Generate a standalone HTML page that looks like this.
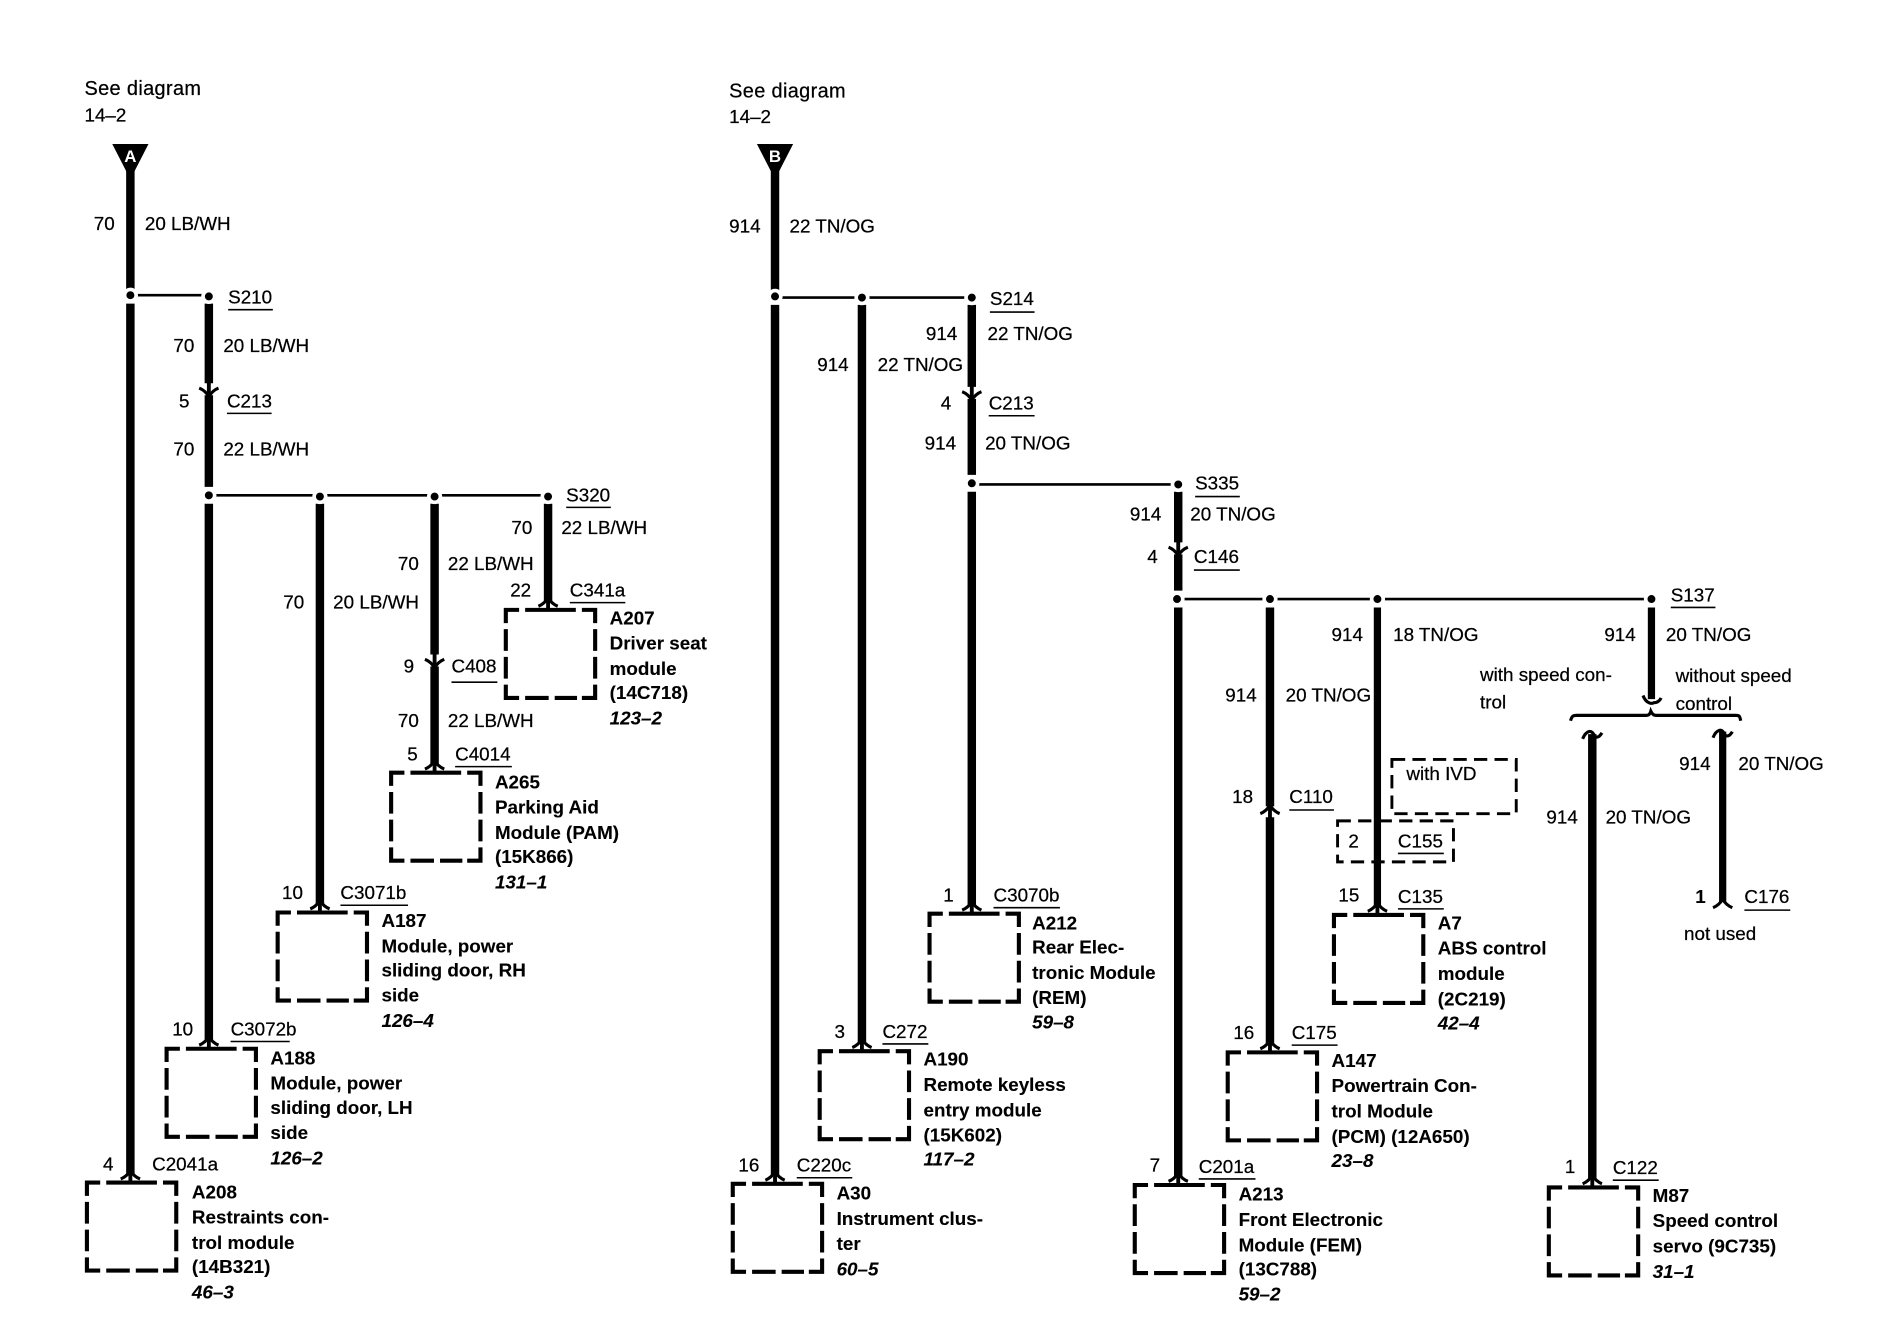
<!DOCTYPE html>
<html><head><meta charset="utf-8"><title>Wiring diagram</title>
<style>
html,body{margin:0;padding:0;background:#fff}
svg{display:block}
text{font-family:"Liberation Sans",Arial,sans-serif;font-size:15.6px;fill:#000;stroke:#000;stroke-width:.2}
.b{font-weight:bold;stroke-width:.1}
.i{font-weight:bold;font-style:italic;stroke-width:.1}
.e{text-anchor:end}
.g{font-size:16.5px;letter-spacing:.3px}
.w{stroke:#000;stroke-width:7;fill:none}
.h{stroke:#000;stroke-width:2.2;fill:none}
.u{stroke:#000;stroke-width:1.3;fill:none}
.d{fill:#000;stroke:#fff;stroke-width:3}
.c{stroke:#000;stroke-width:2.6;fill:none}
.s{stroke:#000;stroke-width:3.2;fill:none}
.x{stroke:#000;stroke-width:3.4;fill:none}
.y{stroke:#000;stroke-width:2.4;fill:none;stroke-dasharray:11 6}
</style></head><body>
<svg xmlns="http://www.w3.org/2000/svg" width="1892" height="1344" viewBox="0 0 1892 1344">
<defs>
<g id="box">
<path class="x" d="M0,11V0H11M63,0H74V11M0,62V73H11M63,73H74V62"/>
<path class="x" d="M16,0H58M16,73H35.5M40.5,73H59M0,16V34M0,39V57M74,16V34M74,39V57"/>
</g>
<g id="cu"><path class="c" d="M-8,3Q-3,1 0,-4Q3,1 8,3"/><path class="s" d="M0,-4V7"/></g>
<g id="cd"><path class="c" d="M-8,-3Q-3,-1 0,4Q3,-1 8,-3"/><path class="s" d="M0,-8V4"/></g>
<path id="cn" class="c" d="M-8,4Q-3,2 0,-3Q3,2 8,4"/>
<path id="ct" class="c" d="M-8,6Q-6,1 -3,0Q0,-1 2,4Q5,6 8,1"/>
<path id="cv" class="c" d="M-7,-5Q-5,0 -2,1Q0,2 2,1Q6,1 8,-3"/>
</defs>
<rect width="1892" height="1344" fill="#fff"/>
<g transform="translate(0,1) scale(1.2072,1.2057)">

<!-- wires left -->
<path class="w" d="M108,138V239M108,251V973"/>
<path class="w" d="M173,251V317M173,327V403M173,417V862"/>
<path class="w" d="M265,417V749"/>
<path class="w" d="M360,417V542M360,552V633"/>
<path class="w" d="M454,417V498"/>
<path class="h" d="M108,244H173M173,410H454"/>
<polygon points="93,118.6 123,118.6 111,142 105,142" fill="#000"/>
<text class="b" x="108" y="133.5" text-anchor="middle" style="fill:#fff;stroke:none;font-size:14px">A</text>
<circle class="d" cx="108" cy="244" r="4.8"/><circle class="d" cx="173" cy="245" r="4.8"/>
<circle class="d" cx="173" cy="410" r="4.8"/><circle class="d" cx="265" cy="411" r="4.8"/>
<circle class="d" cx="360" cy="411" r="4.8"/><circle class="d" cx="454" cy="411" r="4.8"/>
<use href="#cd" x="173" y="324"/><use href="#cd" x="360" y="549"/>
<use href="#cu" x="108" y="974"/><use href="#cu" x="173" y="863"/><use href="#cu" x="265" y="750"/>
<use href="#cu" x="360" y="634"/><use href="#cu" x="454" y="499"/>
<use href="#box" x="72" y="980"/><use href="#box" x="138" y="869"/><use href="#box" x="230" y="756"/>
<use href="#box" x="324" y="640"/><use href="#box" x="419" y="505"/>
<path class="u" d="M189,256H226M188,342H225M469,420H506M472,499H518M374,565H412M377,635H424M282,750H338M191,863H240"/>

<text class="g" x="70" y="78">See diagram</text><text x="70" y="100">14–2</text>
<text class="e" x="95" y="190">70</text><text x="120" y="190">20 LB/WH</text>
<text x="189" y="251">S210</text>
<text class="e" x="161" y="291">70</text><text x="185" y="291">20 LB/WH</text>
<text class="e" x="157" y="337">5</text><text x="188" y="337">C213</text>
<text class="e" x="161" y="377">70</text><text x="185" y="377">22 LB/WH</text>
<text x="469" y="415">S320</text>
<text class="e" x="441" y="442">70</text><text x="465" y="442">22 LB/WH</text>
<text class="e" x="347" y="472">70</text><text x="371" y="472">22 LB/WH</text>
<text class="e" x="440" y="494">22</text><text x="472" y="494">C341a</text>
<text class="e" x="252" y="504">70</text><text x="276" y="504">20 LB/WH</text>
<text class="e" x="343" y="557">9</text><text x="374" y="557">C408</text>
<text class="e" x="347" y="602">70</text><text x="371" y="602">22 LB/WH</text>
<text class="e" x="346" y="630">5</text><text x="377" y="630">C4014</text>
<text class="e" x="251" y="745">10</text><text x="282" y="745">C3071b</text>
<text class="e" x="160" y="858">10</text><text x="191" y="858">C3072b</text>
<text class="e" x="94" y="970">4</text><text x="126" y="970">C2041a</text>

<text class="b" x="505" y="517">A207</text><text class="b" x="505" y="538">Driver seat</text><text class="b" x="505" y="559">module</text><text class="b" x="505" y="579">(14C718)</text><text class="i" x="505" y="600">123–2</text>
<text class="b" x="410" y="653">A265</text><text class="b" x="410" y="674">Parking Aid</text><text class="b" x="410" y="695">Module (PAM)</text><text class="b" x="410" y="715">(15K866)</text><text class="i" x="410" y="736">131–1</text>
<text class="b" x="316" y="768">A187</text><text class="b" x="316" y="789">Module, power</text><text class="b" x="316" y="809">sliding door, RH</text><text class="b" x="316" y="830">side</text><text class="i" x="316" y="851">126–4</text>
<text class="b" x="224" y="882">A188</text><text class="b" x="224" y="903">Module, power</text><text class="b" x="224" y="923">sliding door, LH</text><text class="b" x="224" y="944">side</text><text class="i" x="224" y="965">126–2</text>
<text class="b" x="159" y="993">A208</text><text class="b" x="159" y="1014">Restraints con-</text><text class="b" x="159" y="1035">trol module</text><text class="b" x="159" y="1055">(14B321)</text><text class="i" x="159" y="1076">46–3</text>

<!-- wires right -->
<path class="w" d="M642,138V240M642,252V974"/>
<path class="w" d="M714,252V864"/>
<path class="w" d="M805,252V320M805,330V393M805,407V750"/>
<path class="w" d="M976,407V449M976,459V489M976,503V975"/>
<path class="w" d="M1052,503V668M1052,677V865"/>
<path class="w" style="stroke-width:6" d="M1141,503V751"/>
<path class="w" style="stroke-width:6" d="M1368,503V579"/>
<path class="w" d="M1319,608V977"/>
<path class="w" style="stroke-width:6" d="M1427,606V747"/>
<path class="h" d="M642,246H805M805,401H976M975,496H1368"/>
<polygon points="627,118.6 657,118.6 645,142 639,142" fill="#000"/>
<text class="b" x="642" y="133.5" text-anchor="middle" style="fill:#fff;stroke:none;font-size:14px">B</text>
<circle class="d" cx="642" cy="245" r="4.8"/><circle class="d" cx="714" cy="246" r="4.8"/><circle class="d" cx="805" cy="246" r="4.8"/>
<circle class="d" cx="805" cy="400" r="4.8"/><circle class="d" cx="976" cy="401" r="4.8"/>
<circle class="d" cx="975" cy="496" r="4.8"/><circle class="d" cx="1052" cy="496" r="4.8"/><circle class="d" cx="1141" cy="496" r="4.8"/><circle class="d" cx="1368" cy="496" r="4.8"/>
<use href="#cd" x="805" y="327"/><use href="#cd" x="976" y="456"/><use href="#cv" x="1368" y="581"/>
<use href="#cu" x="642" y="975"/><use href="#cu" x="714" y="865"/><use href="#cu" x="805" y="751"/>
<use href="#cu" x="976" y="976"/><use href="#cu" x="1052" y="671"/><use href="#cu" x="1052" y="866"/>
<use href="#cu" x="1141" y="752"/><use href="#cu" x="1319" y="978"/><use href="#ct" x="1319" y="606"/><use href="#ct" x="1427" y="605"/><use href="#cn" x="1427" y="748"/>
<path class="c" d="M1301,597C1302,593 1303,592.5 1306,592.5H1364C1366,592.5 1367,591 1367.5,589C1368.5,591 1369.5,592.5 1372,592.5H1438C1441,592.5 1441,593 1442,597"/>
<use href="#box" x="607" y="981"/><use href="#box" x="679" y="871"/><use href="#box" x="770" y="757"/>
<use href="#box" x="940" y="982"/><use href="#box" x="1017" y="872"/><use href="#box" x="1105" y="758"/><use href="#box" x="1283" y="984"/>
<rect class="y" x="1153" y="629" width="103" height="45"/>
<rect class="y" x="1108" y="680" width="96" height="34"/>
<path class="u" d="M820,258H857M819,344H857M990,411H1027M989,472H1027M1384,503H1421M1068,671H1105M1158,707H1196M1158,753H1196M1445,754H1483M823,752H878M731,865H769M1070,866H1108M660,976H706M993,977H1040M1336,978H1374"/>

<text class="g" x="604" y="80">See diagram</text><text x="604" y="101">14–2</text>
<text class="e" x="630" y="192">914</text><text x="654" y="192">22 TN/OG</text>
<text x="820" y="252">S214</text>
<text class="e" x="793" y="281">914</text><text x="818" y="281">22 TN/OG</text>
<text class="e" x="703" y="307">914</text><text x="727" y="307">22 TN/OG</text>
<text class="e" x="788" y="339">4</text><text x="819" y="339">C213</text>
<text class="e" x="792" y="372">914</text><text x="816" y="372">20 TN/OG</text>
<text x="990" y="405">S335</text>
<text class="e" x="962" y="431">914</text><text x="986" y="431">20 TN/OG</text>
<text class="e" x="959" y="466">4</text><text x="989" y="466">C146</text>
<text x="1384" y="498">S137</text>
<text class="e" x="1129" y="531">914</text><text x="1154" y="531">18 TN/OG</text>
<text class="e" x="1355" y="531">914</text><text x="1380" y="531">20 TN/OG</text>
<text x="1226" y="564">with speed con-</text><text x="1226" y="587">trol</text>
<text x="1388" y="565">without speed</text><text x="1388" y="588">control</text>
<text class="e" x="1041" y="581">914</text><text x="1065" y="581">20 TN/OG</text>
<text class="e" x="1417" y="638">914</text><text x="1440" y="638">20 TN/OG</text>
<text x="1165" y="646">with IVD</text>
<text class="e" x="1038" y="665">18</text><text x="1068" y="665">C110</text>
<text class="e" x="1307" y="682">914</text><text x="1330" y="682">20 TN/OG</text>
<text x="1117" y="702">2</text><text x="1158" y="702">C155</text>
<text class="e" x="1126" y="747">15</text><text x="1158" y="748">C135</text>
<text class="e b" x="1413" y="748">1</text><text x="1445" y="748">C176</text>
<text x="1395" y="779">not used</text>
<text class="e" x="790" y="747">1</text><text x="823" y="747">C3070b</text>
<text class="e" x="700" y="860">3</text><text x="731" y="860">C272</text>
<text class="e" x="1039" y="861">16</text><text x="1070" y="861">C175</text>
<text class="e" x="629" y="971">16</text><text x="660" y="971">C220c</text>
<text class="e" x="961" y="971">7</text><text x="993" y="972">C201a</text>
<text class="e" x="1305" y="972">1</text><text x="1336" y="973">C122</text>

<text class="b" x="855" y="770">A212</text><text class="b" x="855" y="790">Rear Elec-</text><text class="b" x="855" y="811">tronic Module</text><text class="b" x="855" y="832">(REM)</text><text class="i" x="855" y="852">59–8</text>
<text class="b" x="1191" y="770">A7</text><text class="b" x="1191" y="791">ABS control</text><text class="b" x="1191" y="812">module</text><text class="b" x="1191" y="833">(2C219)</text><text class="i" x="1191" y="853">42–4</text>
<text class="b" x="765" y="883">A190</text><text class="b" x="765" y="904">Remote keyless</text><text class="b" x="765" y="925">entry module</text><text class="b" x="765" y="946">(15K602)</text><text class="i" x="765" y="966">117–2</text>
<text class="b" x="1103" y="884">A147</text><text class="b" x="1103" y="905">Powertrain Con-</text><text class="b" x="1103" y="926">trol Module</text><text class="b" x="1103" y="947">(PCM) (12A650)</text><text class="i" x="1103" y="967">23–8</text>
<text class="b" x="693" y="994">A30</text><text class="b" x="693" y="1015">Instrument clus-</text><text class="b" x="693" y="1036">ter</text><text class="i" x="693" y="1057">60–5</text>
<text class="b" x="1026" y="995">A213</text><text class="b" x="1026" y="1016">Front Electronic</text><text class="b" x="1026" y="1037">Module (FEM)</text><text class="b" x="1026" y="1057">(13C788)</text><text class="i" x="1026" y="1078">59–2</text>
<text class="b" x="1369" y="996">M87</text><text class="b" x="1369" y="1017">Speed control</text><text class="b" x="1369" y="1038">servo (9C735)</text><text class="i" x="1369" y="1059">31–1</text>
</g>
</svg>
</body></html>
